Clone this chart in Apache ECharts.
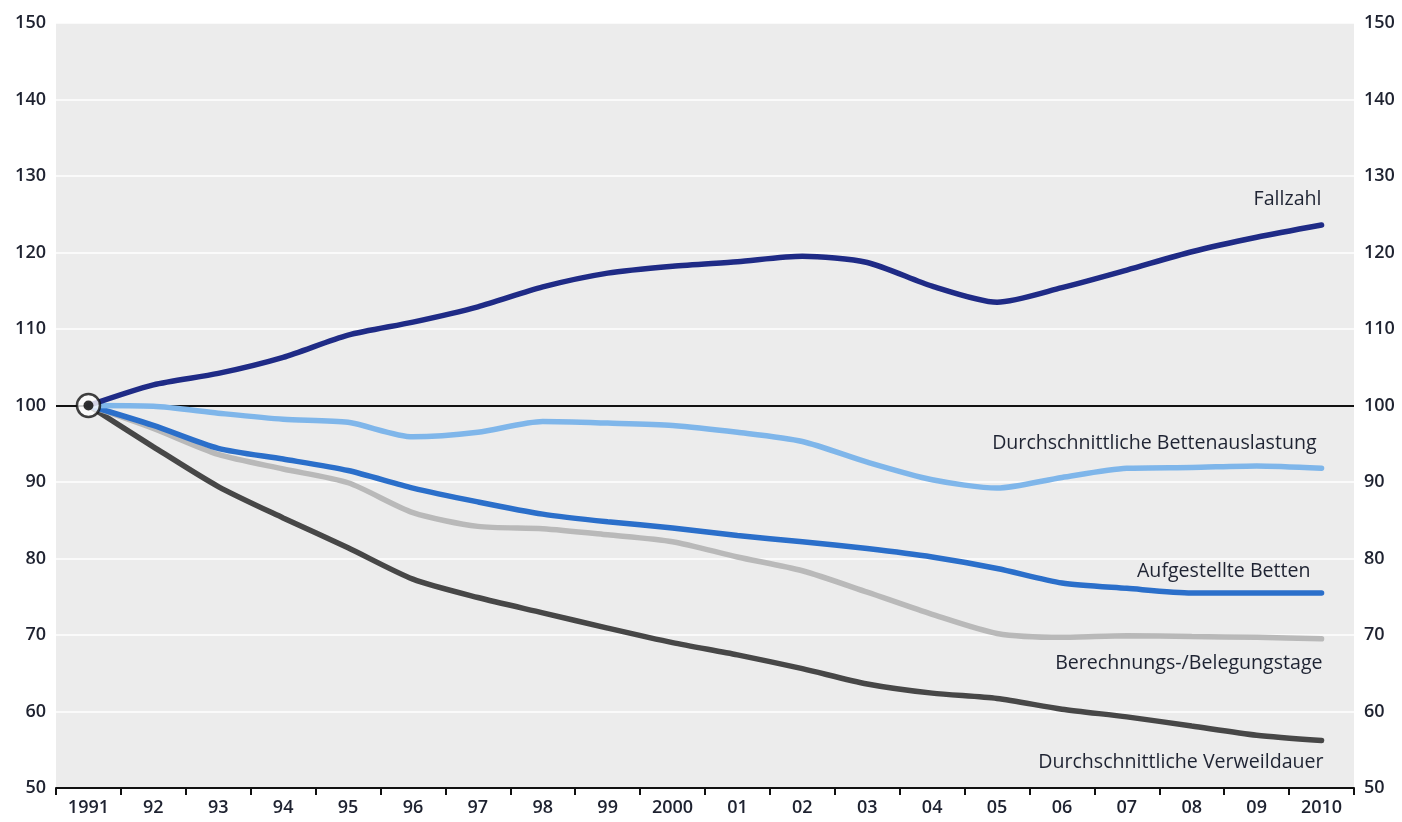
<!DOCTYPE html>
<html>
<head>
<meta charset="utf-8">
<script src="https://cdn.jsdelivr.net/npm/echarts@6/dist/echarts.min.js"></script>
<style>
html,body{margin:0;padding:0;background:#ffffff;}
#chart{width:1402px;height:822px;}
</style>
</head>
<body>
<div id="chart"></div>
<script>
const years = ['1991','92','93','94','95','96','97','98','99','2000','01','02','03','04','05','06','07','08','09','2010'];
const yTicks = [50,60,70,80,90,100,110,120,130,140,150];
const fallzahl = [100,102.7,104.2,106.3,109.2,110.9,112.9,115.5,117.3,118.2,118.8,119.5,118.7,115.6,113.5,115.4,117.7,120.1,122,123.6];
const bettenauslastung = [100,99.9,99.0,98.2,97.8,95.9,96.5,97.9,97.7,97.4,96.5,95.3,92.6,90.3,89.2,90.6,91.8,91.9,92.1,91.8];
const aufgestellteBetten = [100,97.4,94.4,93.0,91.5,89.2,87.4,85.8,84.8,84.0,83.0,82.2,81.3,80.2,78.7,76.8,76.1,75.5,75.5,75.5];
const belegungstage = [100,97.0,93.6,91.7,89.9,86.0,84.2,83.9,83.1,82.2,80.2,78.4,75.6,72.7,70.2,69.7,69.9,69.8,69.7,69.5];
const verweildauer = [100,94.6,89.4,85.3,81.4,77.3,74.9,72.9,70.9,69.0,67.4,65.6,63.6,62.4,61.7,60.3,59.3,58.1,56.9,56.2];

const seriesInfo = [
  {name:'Durchschnittliche Verweildauer', data: verweildauer, color:'#474747', offset:[2,22]},
  {name:'Berechnungs-/Belegungstage', data: belegungstage, color:'#b9b9b9', offset:[1,25]},
  {name:'Aufgestellte Betten', data: aufgestellteBetten, color:'#2b6fca', offset:[-11,-22]},
  {name:'Durchschnittliche Bettenauslastung', data: bettenauslastung, color:'#7fb6ea', offset:[-5,-25]},
  {name:'Fallzahl', data: fallzahl, color:'#1f2b86', offset:[0,-26]}
];

const labelFont = {fontFamily:'Open Sans', fontSize:19.6, color:'#1f2433'};
const tickFont = {fontFamily:'Open Sans', fontSize:18, fontWeight:600, color:'#1e2230'};

const chart = echarts.init(document.getElementById('chart'));
const series = seriesInfo.map((s, i) => ({
  name: s.name,
  type: 'line',
  data: s.data,
  smooth: 0.25,
  symbol: 'none',
  lineStyle: {color: s.color, width: 5.5, cap: 'round'},
  z: 3 + i,
  markPoint: {
    symbol: 'circle',
    symbolSize: 0,
    silent: true,
    data: [{coord: [years.length - 1, s.data[s.data.length - 1]], name: s.name}],
    label: Object.assign({show: true, formatter: s.name, position: 'inside', align: 'right', verticalAlign: 'middle', offset: s.offset}, labelFont)
  }
}));

series.unshift({
  type: 'line',
  data: years.map(() => 100),
  symbol: 'none',
  silent: true,
  lineStyle: {color: '#000', width: 0},
  z: 2,
  markLine: {
    silent: true,
    symbol: 'none',
    label: {show: false},
    lineStyle: {color: '#111', width: 1.8, type: 'solid'},
    data: [{yAxis: 100}]
  }
});

series.push({
  type: 'scatter',
  data: [[0, fallzahl[0]]],
  symbol: 'circle',
  symbolSize: 23,
  itemStyle: {color: '#ffffff', borderColor: '#111', borderWidth: 2.5},
  z: 20,
  silent: true
});
series.push({
  type: 'scatter',
  data: [[0, fallzahl[0]]],
  symbol: 'circle',
  symbolSize: 10,
  itemStyle: {color: '#000'},
  z: 21,
  silent: true
});

const yAxisBase = {
  type: 'value',
  min: yTicks[0],
  max: yTicks[yTicks.length - 1],
  interval: 10,
  axisLine: {show: false},
  axisTick: {show: false},
  axisLabel: Object.assign({margin: 10}, tickFont)
};

chart.setOption({
  animation: false,
  backgroundColor: '#ffffff',
  grid: {left: 56, right: 48, top: 23, bottom: 34, show: true, backgroundColor: '#ececec', borderWidth: 0},
  xAxis: {
    type: 'category',
    data: years,
    boundaryGap: true,
    axisLine: {show: true, lineStyle: {color: '#111', width: 2}},
    axisTick: {show: true, length: 7, lineStyle: {color: '#111', width: 2}},
    axisLabel: Object.assign({margin: 11}, tickFont),
    splitLine: {show: false}
  },
  yAxis: [
    Object.assign({}, yAxisBase, {position: 'left', splitLine: {show: true, lineStyle: {color: '#ffffff', width: 1.5}}}),
    Object.assign({}, yAxisBase, {position: 'right', splitLine: {show: false}})
  ],
  series: series
});
</script>
</body>
</html>
